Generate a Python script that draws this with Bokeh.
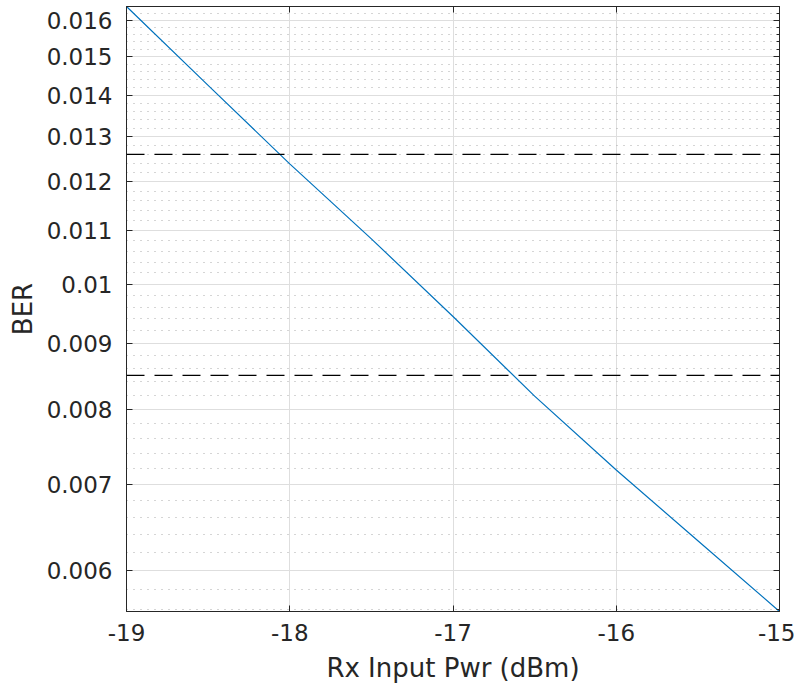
from bokeh.plotting import figure
from bokeh.models import (Range1d, FixedTicker, LinearAxis, LogAxis,
                          CustomJSTickFormatter, Span)
from bokeh.embed import file_html
from bokeh.resources import INLINE

# ---- data ----
rx_pwr = [-19.0, -18.5, -18.0, -17.5, -17.0, -16.5, -16.0, -15.5, -15.0]
ber = [0.01640, 0.01425, 0.01239, 0.01084, 0.00944, 0.00819, 0.00718, 0.00633, 0.00558]
thresholds = [0.0126, 0.0085]
x_ticks = [-19, -18, -17, -16, -15]
y_ticks = [0.006, 0.007, 0.008, 0.009, 0.010, 0.011, 0.012, 0.013, 0.014, 0.015, 0.016]
x_label = "Rx Input Pwr (dBm)"
y_label = "BER"

# minor ticks every 0.0002 (log-axis minor grid as drawn)
y_minor = [round(k * 0.0002, 4) for k in range(27, 83)]
y_minor = [v for v in y_minor if all(abs(v - t) > 1e-9 for t in y_ticks)]

TXT = "#262626"
FONT = "DejaVu Sans"

p = figure(width=795, height=686, output_backend="svg", toolbar_location=None,
           y_axis_type="log", x_axis_location=None, y_axis_location=None,
           x_range=Range1d(min(rx_pwr), max(rx_pwr)),
           y_range=Range1d(min(ber), max(ber)),
           min_border_left=126, min_border_right=16, min_border_top=6,
           min_border_bottom=75)
p.background_fill_color = "white"
p.border_fill_color = "white"
p.outline_line_color = TXT
p.outline_line_width = 1

yt = FixedTicker(ticks=y_ticks, minor_ticks=y_minor)
xt = FixedTicker(ticks=x_ticks)
num_fmt = CustomJSTickFormatter(code="return String(parseFloat(tick.toPrecision(6)));")
blank_fmt = CustomJSTickFormatter(code="return '';")


def style_axis(ax, show_labels=True, minor=False):
    ax.axis_line_color = TXT
    ax.axis_line_width = 1
    ax.major_tick_line_color = TXT
    ax.major_tick_in = 6
    ax.major_tick_out = 0
    if minor:
        ax.minor_tick_line_color = TXT
        ax.minor_tick_in = 3
        ax.minor_tick_out = 0
    else:
        ax.minor_tick_line_color = None
    ax.major_label_text_color = TXT
    ax.major_label_text_font = FONT
    ax.axis_label_text_color = TXT
    ax.axis_label_text_font = FONT
    ax.axis_label_text_font_style = "normal"
    ax.major_label_text_font_size = "23px"
    ax.axis_label_text_font_size = "26px"
    if not show_labels:
        ax.major_label_standoff = 0


left = LogAxis(ticker=yt, formatter=num_fmt, axis_label=y_label)
style_axis(left)
left.major_label_standoff = 10
left.axis_label_standoff = 6
p.add_layout(left, "left")

right = LogAxis(ticker=yt, formatter=blank_fmt)
style_axis(right, show_labels=False, minor=True)
p.add_layout(right, "right")

bottom = LinearAxis(ticker=xt, formatter=num_fmt, axis_label=x_label)
style_axis(bottom)
bottom.major_label_standoff = 12
bottom.axis_label_standoff = 9
p.add_layout(bottom, "below")

top = LinearAxis(ticker=xt, formatter=blank_fmt)
style_axis(top, show_labels=False)
p.add_layout(top, "above")

p.xgrid.ticker = xt
p.ygrid.ticker = yt
for g in (p.xgrid, p.ygrid):
    g.grid_line_color = "#dedede"
    g.grid_line_width = 1
p.ygrid.minor_grid_line_color = "#ababab"
p.ygrid.minor_grid_line_dash = "1 6"
p.ygrid.minor_grid_line_width = 1

p.line(rx_pwr, ber, line_color="#0072BD", line_width=1.2)

for t in thresholds:
    p.add_layout(Span(location=t, dimension="width", line_color="#000000",
                      line_width=1.2, line_dash="18 10"))

open("out.html", "w").write(file_html(p, INLINE))
